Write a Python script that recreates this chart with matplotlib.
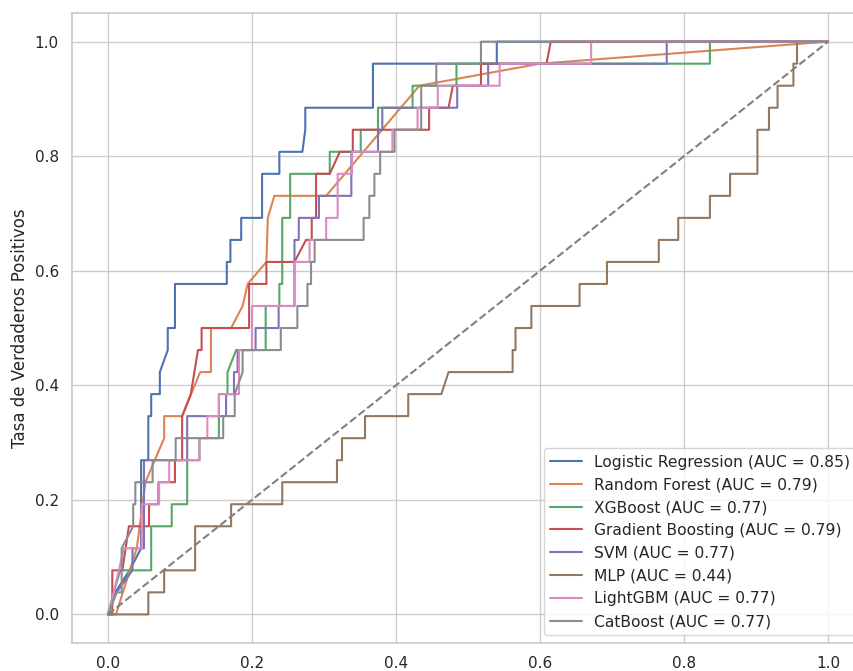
import numpy as np
import matplotlib
matplotlib.use("Agg")
import matplotlib.pyplot as plt
import seaborn as sns

sns.set_theme(style="whitegrid", context="notebook")
plt.rcParams['font.family'] = ['DejaVu Sans']

# numero de positivos en test (paso vertical de las curvas = 1/26)
n_pos = 26

modelos = ["Logistic Regression", "Random Forest", "XGBoost", "Gradient Boosting",
           "SVM", "MLP", "LightGBM", "CatBoost"]
auc = [0.85, 0.79, 0.77, 0.79, 0.77, 0.44, 0.77, 0.77]

# tasa de falsos positivos / verdaderos positivos (contados)
fpr_lr = [0, 0.01, 0.03, 0.046, 0.046, 0.056, 0.056, 0.06, 0.06, 0.072, 0.072, 0.083, 0.083,
          0.093, 0.093, 0.165, 0.165, 0.17, 0.17, 0.185, 0.185, 0.214, 0.214, 0.238, 0.238,
          0.27, 0.274, 0.274, 0.368, 0.368, 0.54, 0.54, 1.0]
tp_lr = [0, 1, 2, 3, 7, 7, 9, 9, 10, 10, 11, 12, 13, 13, 15, 15, 16, 16, 17, 17, 18, 18, 20,
         20, 21, 21, 22, 23, 23, 25, 25, 26, 26]

fpr_rf = [0, 0.011, 0.04, 0.052, 0.078, 0.078, 0.103, 0.128, 0.143, 0.143, 0.171, 0.187,
          0.194, 0.22, 0.222, 0.231, 0.303, 0.4325, 0.6, 1.0]
tp_rf = [0, 0, 3, 6, 8, 9, 9, 11, 11, 13, 13, 14, 15, 16, 18, 19, 19, 24, 25, 26]

fpr_xgb = [0, 0.008, 0.017, 0.06, 0.06, 0.0885, 0.0885, 0.11, 0.11, 0.127, 0.127, 0.154, 0.154,
           0.166, 0.166, 0.178, 0.219, 0.219, 0.238, 0.238, 0.242, 0.242, 0.253, 0.253, 0.308,
           0.308, 0.351, 0.351, 0.375, 0.375, 0.423, 0.423, 0.484, 0.484, 0.836, 0.836, 1.0]
tp_xgb = [0, 1, 2, 2, 4, 4, 5, 5, 7, 7, 8, 8, 10, 10, 11, 12, 12, 14, 14, 15, 15, 18, 18, 20,
          20, 21, 21, 22, 22, 23, 23, 24, 24, 25, 25, 26, 26]

fpr_gb = [0, 0.006, 0.006, 0.02, 0.029, 0.057, 0.057, 0.07, 0.07, 0.093, 0.093, 0.103, 0.103,
          0.115, 0.12, 0.125, 0.13, 0.13, 0.196, 0.196, 0.22, 0.22, 0.259, 0.275, 0.283, 0.283,
          0.289, 0.289, 0.308, 0.322, 0.34, 0.34, 0.446, 0.446, 0.473, 0.479, 0.518, 0.518,
          0.609, 0.615, 1.0]
tp_gb = [0, 0, 2, 2, 4, 4, 5, 5, 6, 6, 7, 7, 9, 10, 11, 12, 12, 13, 13, 15, 15, 16, 16, 17, 17,
         18, 18, 20, 20, 21, 21, 22, 22, 23, 23, 24, 24, 25, 25, 26, 26]

fpr_svm = [0, 0.012, 0.034, 0.034, 0.05, 0.05, 0.11, 0.11, 0.164, 0.164, 0.175, 0.175, 0.18,
           0.18, 0.205, 0.205, 0.237, 0.237, 0.259, 0.259, 0.265, 0.265, 0.293, 0.293, 0.338,
           0.338, 0.375, 0.375, 0.381, 0.381, 0.485, 0.485, 0.528, 0.528, 0.776, 0.776, 1.0]
tp_svm = [0, 1, 2, 3, 3, 7, 7, 9, 9, 10, 10, 11, 11, 12, 12, 13, 13, 14, 14, 17, 17, 18, 18,
          19, 19, 21, 21, 22, 22, 23, 23, 24, 24, 25, 25, 26, 26]

fpr_mlp = [0, 0.056, 0.056, 0.078, 0.078, 0.121, 0.121, 0.171, 0.171, 0.242, 0.242, 0.318,
           0.318, 0.325, 0.325, 0.357, 0.357, 0.417, 0.417, 0.463, 0.473, 0.562, 0.562, 0.566,
           0.566, 0.588, 0.588, 0.655, 0.655, 0.693, 0.693, 0.765, 0.765, 0.792, 0.792, 0.836,
           0.836, 0.864, 0.864, 0.902, 0.902, 0.918, 0.918, 0.93, 0.93, 0.952, 0.952, 0.957,
           0.957, 1.0]
tp_mlp = [0, 0, 1, 1, 2, 2, 4, 4, 5, 5, 6, 6, 7, 7, 8, 8, 9, 9, 10, 10, 11, 11, 12, 12, 13, 13,
          14, 14, 15, 15, 16, 16, 17, 17, 18, 18, 19, 19, 20, 20, 22, 22, 23, 23, 24, 24, 25, 25,
          26, 26]

fpr_lgbm = [0, 0.008, 0.022, 0.047, 0.047, 0.071, 0.071, 0.085, 0.085, 0.127, 0.127, 0.138,
            0.138, 0.154, 0.154, 0.182, 0.182, 0.2, 0.2, 0.259, 0.259, 0.28, 0.28, 0.303, 0.303,
            0.319, 0.319, 0.339, 0.339, 0.395, 0.395, 0.43, 0.43, 0.458, 0.458, 0.544, 0.544,
            0.671, 0.671, 1.0]
tp_lgbm = [0, 1, 3, 3, 5, 5, 6, 6, 7, 7, 8, 8, 9, 9, 10, 10, 12, 12, 14, 14, 16, 16, 17, 17, 18,
           18, 20, 20, 21, 21, 22, 22, 23, 23, 24, 24, 25, 25, 26, 26]

fpr_cat = [0, 0.012, 0.019, 0.019, 0.035, 0.035, 0.038, 0.038, 0.062, 0.062, 0.094, 0.094, 0.16,
           0.16, 0.176, 0.176, 0.187, 0.187, 0.24, 0.24, 0.263, 0.263, 0.277, 0.277, 0.282,
           0.282, 0.287, 0.287, 0.355, 0.355, 0.363, 0.363, 0.37, 0.37, 0.378, 0.378, 0.398,
           0.398, 0.435, 0.435, 0.456, 0.456, 0.518, 0.518, 1.0]
tp_cat = [0, 1, 1, 3, 4, 5, 5, 6, 6, 7, 7, 8, 8, 9, 9, 10, 11, 12, 12, 13, 13, 14, 14, 15, 15,
          16, 16, 17, 17, 18, 18, 19, 19, 20, 20, 21, 21, 22, 22, 24, 24, 25, 25, 26, 26]

curvas = [(fpr_lr, tp_lr), (fpr_rf, tp_rf), (fpr_xgb, tp_xgb), (fpr_gb, tp_gb),
          (fpr_svm, tp_svm), (fpr_mlp, tp_mlp), (fpr_lgbm, tp_lgbm), (fpr_cat, tp_cat)]

fig = plt.figure(figsize=(8.54, 6.71), dpi=100)
# la imagen original esta recortada: el eje sobresale por la derecha
ax = fig.add_axes([0.0843, 0.0417, 0.9274, 0.9389])

colores = sns.color_palette("deep")
for i, (fpr, tp) in enumerate(curvas):
    tpr = np.array(tp) / n_pos
    ax.plot(fpr, tpr, color=colores[i], lw=1.5,
            label=f"{modelos[i]} (AUC = {auc[i]:.2f})")

ax.plot([0, 1], [0, 1], color="gray", linestyle="--", lw=1.5)

ax.set_xlim(-0.05, 1.05)
ax.set_ylim(-0.05, 1.05)
ax.set_ylabel("Tasa de Verdaderos Positivos")
ax.legend(loc="lower right", fontsize=11.2)

fig.savefig("out.png", dpi=100)
